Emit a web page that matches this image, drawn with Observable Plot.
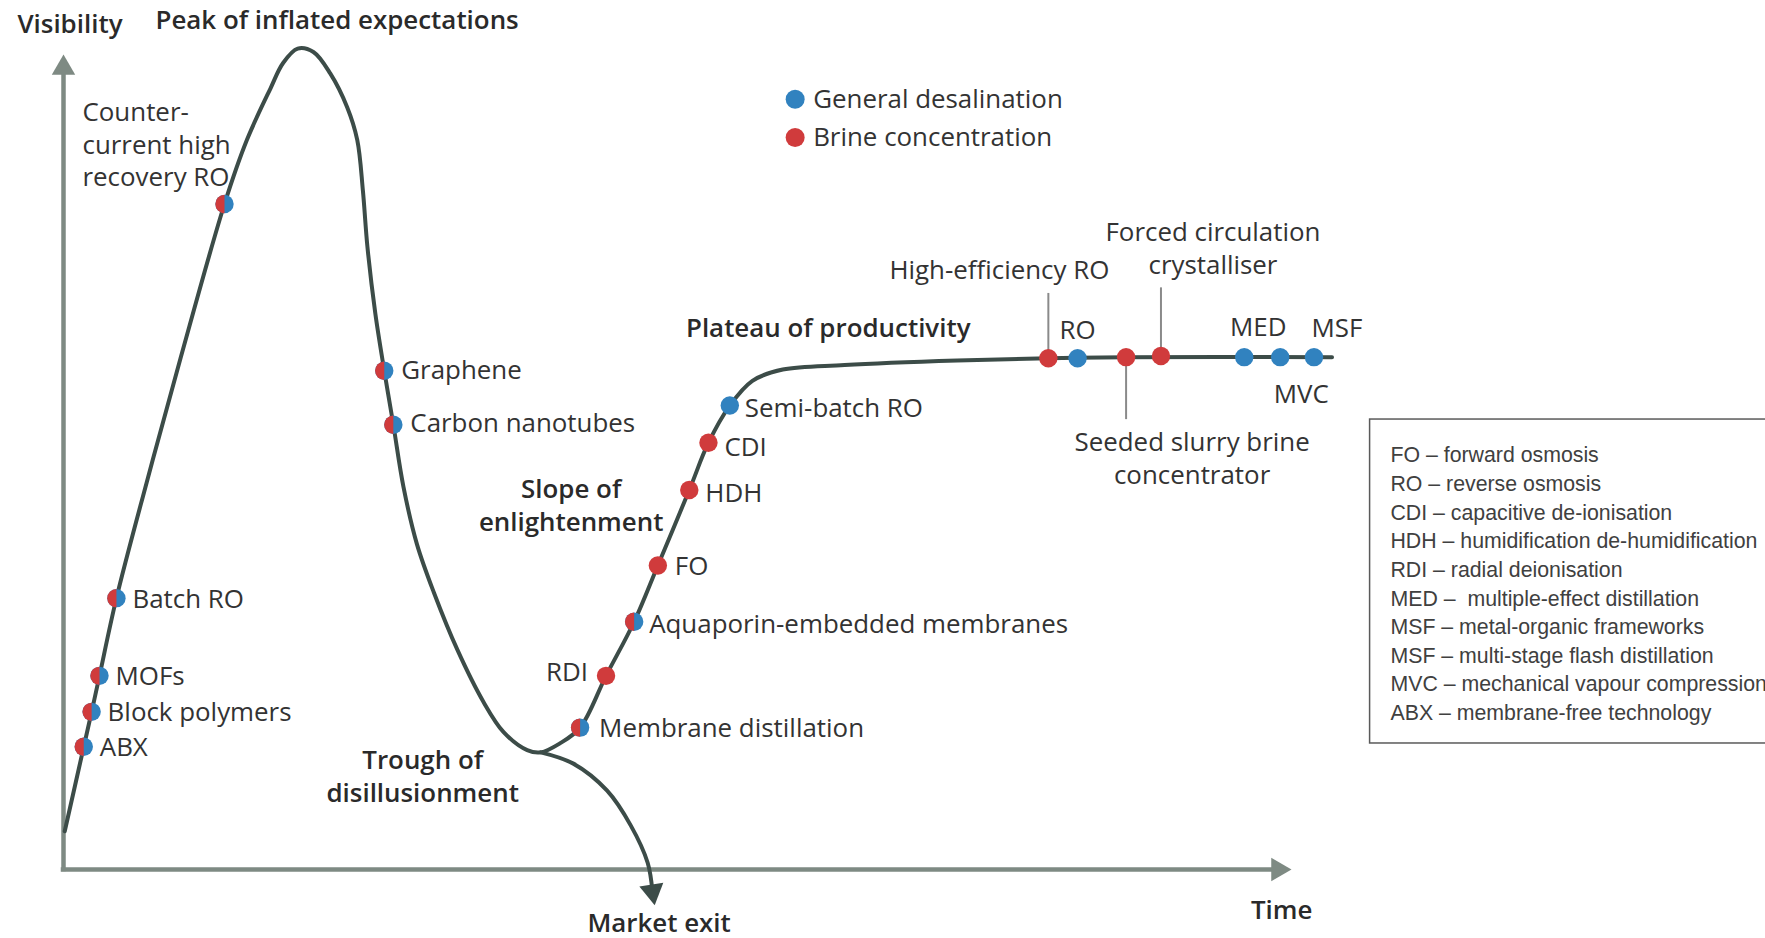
<!DOCTYPE html>
<html><head><meta charset="utf-8">
<script src="https://cdn.jsdelivr.net/npm/d3@7"></script>
<script src="https://cdn.jsdelivr.net/npm/@observablehq/plot@0.6"></script>
<style>html,body{margin:0;padding:0;background:#fff;overflow:hidden}#chart svg{display:block}</style>
</head><body><div id="chart"></div>
<script>
// ---- Hype curve (time, visibility) ----
const curveTime = [0.1, 1.65, 2.29, 2.93, 4.31, 6.78, 9.53, 13.11, 14.94, 16.87, 17.87, 19.07, 20.35, 21.72, 23.10, 23.92, 24.38, 24.75, 25.39, 26.12, 26.86, 27.68, 28.78, 30.16, 32.08, 34.19, 35.84, 37.76, 38.86, 40.42, 42.07, 44.18, 46.47, 48.40, 50.96, 52.52, 54.26, 56.10, 58.57, 63.61, 72.78, 80.20, 86.53, 103.3];
const curveVis  = [4.66, 14.93, 19.18, 23.56, 33.01, 47.12, 62.19, 80.96, 88.77, 95.07, 98.08, 99.86, 99.45, 96.85, 92.74, 88.77, 82.60, 75.75, 67.67, 60.68, 54.11, 46.58, 39.59, 33.70, 26.71, 20.41, 16.71, 14.52, 14.25, 15.34, 17.26, 23.56, 30.14, 36.99, 46.16, 51.92, 56.44, 59.45, 60.82, 61.37, 61.92, 62.19, 62.33, 62.33];
// Market exit branch
const exitTime = [38.86, 41.52, 44.27, 46.20, 47.57, 47.96];
const exitVis  = [14.25, 12.88, 9.59, 5.34, 0.82, -2.68];

// ---- Technologies ----
const techNames = ["Counter-\ncurrent high\nrecovery RO", "Batch RO", "MOFs", "Block polymers", "ABX", "Graphene", "Carbon nanotubes", "Membrane distillation", "RDI", "Aquaporin-embedded membranes", "FO", "HDH", "CDI", "Semi-batch RO", "High-efficiency RO", "RO", "Seeded slurry brine\nconcentrator", "Forced circulation\ncrystalliser", "MED", "MVC", "MSF"];
const techTime  = [13.11, 4.31, 2.93, 2.29, 1.65, 26.12, 26.86, 42.07, 44.18, 46.47, 48.40, 50.96, 52.52, 54.26, 80.20, 82.58, 86.53, 89.37, 96.15, 99.08, 101.83];
const techVis   = [80.96, 33.01, 23.56, 19.18, 14.93, 60.68, 54.11, 17.26, 23.56, 30.14, 36.99, 46.16, 51.92, 56.44, 62.19, 62.19, 62.33, 62.47, 62.33, 62.33, 62.33];
const techGroup = ["both", "both", "both", "both", "both", "both", "both", "both", "brine", "both", "brine", "brine", "brine", "general", "brine", "general", "brine", "brine", "general", "general", "general"];

const legendLabels = ["General desalination", "Brine concentration"];
const legendGroups = ["general", "brine"];

const phaseNames = ["Visibility", "Peak of inflated expectations", "Plateau of productivity", "Slope of\nenlightenment", "Trough of\ndisillusionment", "Time", "Market exit"];

const abbreviations = ["FO – forward osmosis", "RO – reverse osmosis", "CDI – capacitive de-ionisation", "HDH – humidification de-humidification", "RDI – radial deionisation", "MED –  multiple-effect distillation", "MSF – metal-organic frameworks", "MSF – multi-stage flash distillation", "MVC – mechanical vapour compression", "ABX – membrane-free technology"];

// ---- Layout / style (kept apart from the data) ----
const colors = {general: "#3182bf", brine: "#d03b3c"};
const curveColor = "#3c4c48";
const axisColor = "#7e8a83";
const textColor = "#333333";
const font = "'Open Sans', 'Noto Sans', sans-serif";
const fontSize = 25.9;
const lineHeight = 1.27;

// label offsets (px) relative to each dot
const labelLayout = {
  "Counter-\ncurrent high\nrecovery RO": {dx: -142, dy: -61, anchor: "start"},
  "Batch RO": {dx: 16, dy: -1, anchor: "start"},
  "MOFs": {dx: 16, dy: -1, anchor: "start"},
  "Block polymers": {dx: 16, dy: -1, anchor: "start"},
  "ABX": {dx: 16, dy: -1, anchor: "start"},
  "Graphene": {dx: 17, dy: -2, anchor: "start"},
  "Carbon nanotubes": {dx: 17, dy: -3, anchor: "start"},
  "Membrane distillation": {dx: 19, dy: -1, anchor: "start"},
  "RDI": {dx: -18, dy: -5, anchor: "end"},
  "Aquaporin-embedded membranes": {dx: 15, dy: 1, anchor: "start"},
  "FO": {dx: 17, dy: -1, anchor: "start"},
  "HDH": {dx: 16, dy: 1, anchor: "start"},
  "CDI": {dx: 16, dy: 3, anchor: "start"},
  "Semi-batch RO": {dx: 15, dy: 1, anchor: "start"},
  "High-efficiency RO": {dx: -49, dy: -90, anchor: "middle"},
  "RO": {dx: 0, dy: -30, anchor: "middle"},
  "Seeded slurry brine\nconcentrator": {dx: 66, dy: 100, anchor: "middle"},
  "Forced circulation\ncrystalliser": {dx: 52, dy: -109, anchor: "middle"},
  "MED": {dx: 14, dy: -32, anchor: "middle"},
  "MVC": {dx: 21, dy: 35, anchor: "middle"},
  "MSF": {dx: 23, dy: -31, anchor: "middle"}
};
// leader lines: tech -> visibility where the line ends
const leaderEnds = {"High-efficiency RO": 70.14, "Seeded slurry brine\nconcentrator": 54.79, "Forced circulation\ncrystalliser": 70.82};
// phase label placement (time, visibility, anchor)
const phaseLayout = [
  {t: -3.75, v: 103.1, anchor: "start"},
  {t: 7.49, v: 103.5, anchor: "start"},
  {t: 50.69, v: 66.1, anchor: "start"},
  {t: 41.34, v: 44.5, anchor: "middle"},
  {t: 29.25, v: 11.5, anchor: "middle"},
  {t: 99.2, v: -4.7, anchor: "middle"},
  {t: 48.5, v: -6.28, anchor: "middle"}
];
const legendPos = {t: 59.58, v: [93.70, 89.04]};
const boxPos = {t1: 106.4, t2: 150, v1: 15.33, v2: 54.74, textT: 108.06, firstV: 50.36, stepV: 3.484};

// ---- Build tables ----
const curve = curveTime.map((t, i) => ({t, v: curveVis[i]}));
const exit = exitTime.map((t, i) => ({t, v: exitVis[i]}));
const techs = techNames.map((name, i) => ({name, t: techTime[i], v: techVis[i], group: techGroup[i]}));
const phases = phaseNames.map((name, i) => ({name, ...phaseLayout[i]}));
const legend = legendLabels.map((label, i) => ({label, group: legendGroups[i], t: legendPos.t, v: legendPos.v[i]}));
const leaders = techs.filter(d => d.name in leaderEnds).map(d => ({...d, v2: leaderEnds[d.name]}));

const leftHalf = {draw(context, size) {
  const r = Math.sqrt(size / Math.PI);
  context.moveTo(0, -r);
  context.arc(0, 0, r, -Math.PI / 2, Math.PI / 2, true);
  context.closePath();
}};

const labelMarks = techs.map(d => {
  const L = labelLayout[d.name];
  return Plot.text([d], {x: "t", y: "v", text: "name", dx: L.dx, dy: L.dy, textAnchor: L.anchor,
    lineAnchor: "middle", lineHeight, fontSize, fontFamily: font, fill: textColor});
});
const phaseMarks = phases.map(d => Plot.text([d], {x: "t", y: "v", text: "name", textAnchor: d.anchor,
  lineAnchor: "middle", lineHeight, fontSize, fontWeight: 600, fontFamily: font, fill: "#2a2a2a"}));

const chart = Plot.plot({
  width: 1765, height: 938,
  marginTop: 0, marginRight: 0, marginBottom: 0, marginLeft: 0,
  x: {domain: [0, 100], range: [63, 1291], axis: null},
  y: {domain: [0, 100], range: [869, 47], axis: null},
  style: {background: "#fff", overflow: "visible"},
  marks: [
    // axes
    Plot.ruleX([0], {y1: 0, y2: 97, stroke: axisColor, strokeWidth: 4.5, strokeLinecap: "square"}),
    Plot.ruleY([0], {x1: 0, x2: 98.5, stroke: axisColor, strokeWidth: 4.5, strokeLinecap: "square"}),
    Plot.dot([{t: 0, v: 97.5, r: 0}, {t: 98.9, v: 0, r: 90}], {x: "t", y: "v", symbol: "triangle", r: 8.7, rotate: "r", fill: axisColor, stroke: "none"}),
    // leader lines
    Plot.link(leaders, {x1: "t", x2: "t", y1: "v", y2: "v2", stroke: "#8a8a8a", strokeWidth: 2}),
    // curves
    Plot.line(exit, {x: "t", y: "v", curve: "catmull-rom", stroke: curveColor, strokeWidth: 4}),
    Plot.dot([exit[exit.length - 1]], {x: "t", y: "v", symbol: "triangle", r: 9, rotate: 170.8, fill: curveColor, stroke: "none"}),
    Plot.line(curve, {x: "t", y: "v", curve: "catmull-rom", stroke: curveColor, strokeWidth: 4}),
    // technology dots
    Plot.dot(techs, {x: "t", y: "v", r: 9.2, fill: d => d.group === "brine" ? colors.brine : colors.general, stroke: "none"}),
    Plot.dot(techs.filter(d => d.group === "both"), {x: "t", y: "v", r: 9.2, symbol: leftHalf, fill: colors.brine, stroke: "none"}),
    ...labelMarks,
    ...phaseMarks,
    // legend
    Plot.dot(legend, {x: "t", y: "v", r: 9.5, fill: d => colors[d.group], stroke: "none"}),
    Plot.text(legend, {x: "t", y: "v", text: "label", dx: 18, textAnchor: "start", fontSize, fontFamily: font, fill: textColor}),
    // abbreviations box
    Plot.rect([boxPos], {x1: "t1", x2: "t2", y1: "v1", y2: "v2", fill: "none", stroke: "#5a5a5a", strokeWidth: 1.5}),
    Plot.text(abbreviations, {x: () => boxPos.textT, y: (d, i) => boxPos.firstV - i * boxPos.stepV, text: d => d,
      textAnchor: "start", fontSize: 21.3, fontFamily: "'Liberation Sans', Arial, sans-serif", fill: "#404040"})
  ]
});
document.getElementById("chart").append(chart);
</script>
</body></html>
